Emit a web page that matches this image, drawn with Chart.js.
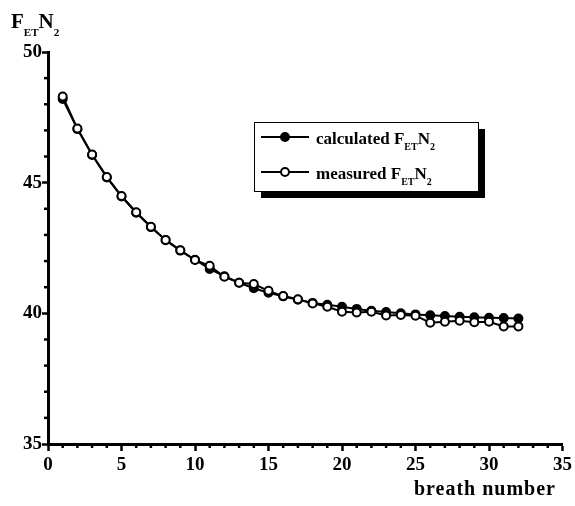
<!DOCTYPE html>
<html>
<head>
<meta charset="utf-8">
<script src="https://cdn.jsdelivr.net/npm/chart.js@4.4.1/dist/chart.umd.min.js"></script>
<style>
  html, body { margin: 0; padding: 0; background: #fff; }
</style>
</head>
<body>
<canvas id="myChart" width="575" height="506"></canvas>
<script>
// breath number 1..32
var breaths = [1, 2, 3, 4, 5, 6, 7, 8, 9, 10, 11, 12, 13, 14, 15, 16,
  17, 18, 19, 20, 21, 22, 23, 24, 25, 26, 27, 28, 29, 30, 31, 32];

var calculated = [48.2, 47.05, 46.06, 45.2, 44.47, 43.85, 43.3, 42.8, 42.4, 42.05,
  41.7, 41.42, 41.17, 40.96, 40.79, 40.65, 40.52, 40.4, 40.33, 40.25,
  40.17, 40.1, 40.05, 40.0, 39.96, 39.93, 39.9, 39.87, 39.85, 39.83, 39.82, 39.8];

var measured = [48.3, 47.07, 46.08, 45.22, 44.49, 43.87, 43.31, 42.81, 42.41, 42.04,
  41.82, 41.4, 41.17, 41.12, 40.86, 40.66, 40.54, 40.38, 40.25, 40.06,
  40.03, 40.06, 39.92, 39.94, 39.91, 39.64, 39.68, 39.72, 39.66, 39.68, 39.5, 39.5];

var xTicks = [0, 5, 10, 15, 20, 25, 30, 35];
var yTicks = [35, 40, 45, 50];

var serif = "'Liberation Serif', 'Times New Roman', serif";

function pts(arr) {
  return breaths.map(function (b, i) { return { x: b, y: arr[i] }; });
}

// text with subscripts, e.g. F_ET N_2
function drawSubText(ctx, parts, x, y, big, small, drop) {
  parts.forEach(function (p) {
    ctx.font = "bold " + (p.sub ? small : big) + "px " + serif;
    ctx.fillText(p.t, x, p.sub ? y + drop : y);
    x += ctx.measureText(p.t).width;
  });
  return x;
}

var fetn2 = [{ t: "F" }, { t: "ET", sub: true }, { t: "N" }, { t: "2", sub: true }];

var decorations = {
  id: "decorations",
  afterDraw: function (chart) {
    var ctx = chart.ctx;
    var xs = chart.scales.x, ys = chart.scales.y;
    var area = chart.chartArea;
    ctx.save();
    ctx.strokeStyle = "#000";
    ctx.fillStyle = "#000";

    // minor ticks
    ctx.lineWidth = 2.5;
    for (var v = 1; v < 35; v++) {
      if (v % 5 === 0) continue;
      var px = xs.getPixelForValue(v);
      ctx.beginPath();
      ctx.moveTo(px, area.bottom);
      ctx.lineTo(px, area.bottom + 4);
      ctx.stroke();
    }
    for (var w = 36; w < 50; w++) {
      if (w % 5 === 0) continue;
      var py = ys.getPixelForValue(w);
      ctx.beginPath();
      ctx.moveTo(area.left, py);
      ctx.lineTo(area.left - 4, py);
      ctx.stroke();
    }

    // axis titles
    ctx.textAlign = "left";
    ctx.textBaseline = "alphabetic";
    drawSubText(ctx, fetn2, 11, 28, 21, 11, 8);

    ctx.font = "bold 20px " + serif;
    ctx.letterSpacing = "1px";
    ctx.textAlign = "right";
    ctx.fillText("breath number", 556, 495);
    ctx.letterSpacing = "0px";
    ctx.textAlign = "left";

    // legend box with shadow
    var bx = 254, by = 122, bw = 224, bh = 69;
    ctx.fillRect(bx + 7, by + 7, bw, bh);
    ctx.fillStyle = "#fff";
    ctx.fillRect(bx, by, bw, bh);
    ctx.lineWidth = 1;
    ctx.strokeRect(bx + 0.5, by + 0.5, bw, bh);

    var rows = [
      { y: 137, label: "calculated ", fill: "#000" },
      { y: 172, label: "measured ", fill: "#fff" }
    ];
    rows.forEach(function (r) {
      ctx.strokeStyle = "#000";
      ctx.lineWidth = 2;
      ctx.beginPath();
      ctx.moveTo(261, r.y);
      ctx.lineTo(309, r.y);
      ctx.stroke();
      ctx.beginPath();
      ctx.arc(285, r.y, 4, 0, Math.PI * 2);
      ctx.fillStyle = r.fill;
      ctx.fill();
      ctx.stroke();
      ctx.fillStyle = "#000";
      ctx.font = "bold 17px " + serif;
      ctx.fillText(r.label, 316, r.y + 7);
      var x0 = 316 + ctx.measureText(r.label).width;
      drawSubText(ctx, fetn2, x0, r.y + 7, 17, 10, 6);
    });
    ctx.restore();
  }
};

var ctx = document.getElementById("myChart").getContext("2d");
var myChart = new Chart(ctx, {
  type: "line",
  data: {
    datasets: [
      {
        label: "calculated FETN2",
        data: pts(calculated),
        borderColor: "#000",
        borderWidth: 2,
        backgroundColor: "#000",
        pointRadius: 4,
        pointBorderWidth: 2,
        pointBackgroundColor: "#000",
        pointBorderColor: "#000",
        tension: 0,
        order: 2,
      },
      {
        label: "measured FETN2",
        data: pts(measured),
        borderColor: "#000",
        borderWidth: 2,
        backgroundColor: "#fff",
        pointRadius: 4,
        pointBorderWidth: 2,
        pointBackgroundColor: "#fff",
        pointBorderColor: "#000",
        tension: 0,
        order: 1,
      },
    ],
  },
  options: {
    responsive: false,
    animation: false,
    devicePixelRatio: 1,
    layout: { padding: { top: 52, right: 12, left: 0, bottom: 0 } },
    plugins: {
      legend: { display: false },
      tooltip: { enabled: false },
    },
    scales: {
      x: {
        type: "linear",
        min: 0,
        max: 35,
        afterFit: function (s) { s.height = 62; },
        afterBuildTicks: function (s) {
          s.ticks = xTicks.map(function (v) { return { value: v }; });
        },
        ticks: {
          autoSkip: false,
          maxRotation: 0,
          padding: 3,
          color: "#000",
          font: { family: serif, size: 19, weight: "bold" },
        },
        grid: {
          drawOnChartArea: false,
          tickLength: 7,
          tickWidth: 2.5,
          tickColor: "#000",
        },
        border: { color: "#000", width: 3 },
      },
      y: {
        min: 35,
        max: 50,
        afterFit: function (s) { s.width = 48; },
        afterBuildTicks: function (s) {
          s.ticks = yTicks.map(function (v) { return { value: v }; });
        },
        ticks: {
          autoSkip: false,
          padding: 0,
          color: "#000",
          font: { family: serif, size: 19, weight: "bold" },
        },
        grid: {
          drawOnChartArea: false,
          tickLength: 6,
          tickWidth: 2.5,
          tickColor: "#000",
        },
        border: { color: "#000", width: 3 },
      },
    },
  },
  plugins: [decorations],
});
</script>
</body>
</html>
